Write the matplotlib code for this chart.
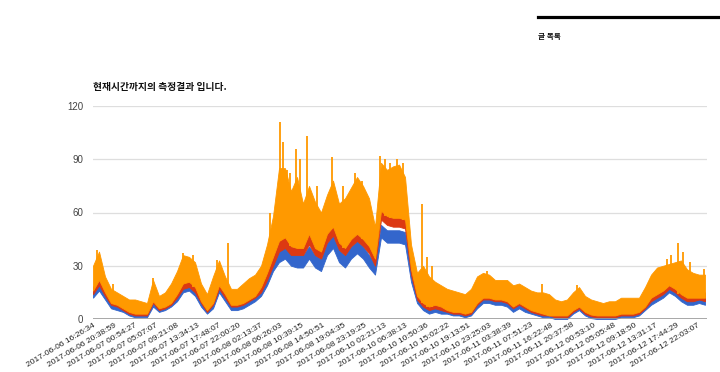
import numpy as np
import matplotlib.pyplot as plt
from matplotlib.lines import Line2D

plt.rcParams['font.family'] = ['Liberation Sans', 'Noto Sans CJK KR', 'DejaVu Sans']

# per-bucket range (min / max) of each series
blue_lo = [12, 16, 11, 6, 5, 4, 2, 1, 1, 1, 7, 4, 5, 7, 10, 15, 16, 13, 7, 3,
           6, 15, 10, 5, 5, 6, 8, 10, 13, 19, 27, 32, 34, 30, 29, 29, 34, 29, 27, 36,
           40, 32, 29, 34, 37, 34, 29, 25, 46, 43, 43, 43, 42, 21, 9, 5, 3, 4, 3, 3,
           2, 2, 1, 2, 6, 9, 9, 8, 8, 7, 4, 6, 4, 3, 2, 1, 1, 0, 0, 0,
           3, 5, 2, 0.5, 0, 0, 0, 0, 1, 1, 1, 2, 5, 8, 10, 12, 15, 13, 10, 8,
           8, 9, 8]
blue_hi = [16, 21, 15, 9, 8, 6, 4, 3, 3, 3, 11, 6, 7, 9, 13, 19, 20, 17, 10, 5,
           9, 18, 13, 8, 8, 9, 11, 13, 17, 24, 32, 39, 41, 37, 36, 36, 41, 36, 34, 43,
           47, 39, 36, 41, 44, 41, 36, 31, 53, 50, 50, 50, 49, 27, 13, 9, 7, 8, 7, 5,
           4, 4, 3, 4, 10, 13, 13, 12, 12, 11, 8, 10, 8, 5, 4, 3, 3, 2, 1.5, 2,
           5, 7, 4, 2.5, 2, 2, 2, 2, 3, 3, 3, 4, 7, 12, 14, 16, 19, 17, 14, 12,
           12, 13, 12]
red_lo = [14, 19, 13, 8, 7, 5, 3, 2, 2, 2, 9, 5, 6, 8, 12, 17, 18, 15, 9, 4,
          8, 17, 12, 7, 7, 8, 10, 12, 15, 22, 30, 38, 40, 36, 36, 36, 42, 36, 34, 43,
          47, 39, 36, 41, 44, 41, 37, 30, 56, 53, 52, 52, 51, 25, 11, 7, 5, 6, 5, 4,
          3, 3, 2, 3, 8, 11, 11, 10, 10, 9, 6, 8, 6, 4, 3, 2, 2, 1, 1, 1,
          4, 6, 3, 1.5, 1, 1, 1, 1, 2, 2, 2, 3, 6, 10, 12, 14, 17, 15, 12, 10,
          10, 11, 10]
red_hi = [18, 25, 18, 11, 10, 8, 6, 4, 5, 5, 13, 8, 9, 11, 16, 23, 24, 20, 12, 7,
          11, 21, 16, 10, 10, 11, 13, 15, 20, 29, 38, 48, 51, 45, 45, 45, 53, 45, 43, 53,
          57, 48, 45, 50, 53, 50, 46, 39, 66, 63, 62, 62, 61, 33, 16, 12, 10, 11, 10, 8,
          6, 6, 5, 6, 12, 15, 15, 14, 14, 13, 10, 12, 10, 7, 6, 5, 4, 3, 3, 3,
          7, 9, 6, 4, 3, 3, 3, 3, 4, 4, 4, 5, 9, 14, 16, 18, 21, 19, 16, 14,
          14, 15, 15]
orange_lo = [16, 22, 15, 9, 8, 6, 4, 3, 3, 3, 10, 6, 7, 9, 14, 20, 21, 18, 10, 5,
             9, 19, 14, 8, 8, 9, 11, 13, 18, 26, 35, 44, 46, 41, 40, 40, 48, 40, 38, 48,
             52, 43, 40, 45, 48, 45, 41, 34, 61, 58, 57, 57, 56, 28, 13, 9, 7, 8, 7, 5,
             4, 4, 3, 4, 9, 12, 12, 11, 11, 10, 7, 9, 7, 5, 4, 3, 2, 2, 2, 2,
             5, 7, 4, 2.5, 2, 2, 2, 2, 3, 3, 3, 4, 7, 12, 14, 16, 19, 17, 14, 12,
             12, 12, 12]
orange_hi = [30, 38, 24, 17, 15, 13, 11, 11, 10, 9, 22, 13, 15, 20, 27, 36, 35, 32, 20, 14,
             24, 33, 24, 17, 17, 20, 23, 25, 30, 42, 58, 85, 85, 72, 80, 65, 75, 66, 60, 70,
             78, 65, 68, 74, 80, 75, 68, 52, 88, 84, 86, 87, 80, 42, 26, 30, 24, 21, 19, 17,
             16, 15, 14, 17, 24, 26, 25, 22, 22, 22, 19, 20, 18, 16, 15, 15, 14, 11, 10, 11,
             15, 18, 13, 11, 10, 9, 10, 10, 12, 12, 12, 12, 18, 25, 29, 30, 31, 32, 33, 28,
             26, 25, 25]

# short peaks of the orange series (bucket position, peak value)
spike_pos = [0.7, 3.3, 10, 15, 16.7, 20.7, 22.5, 29.5, 31.2, 31.7, 32.3, 32.8, 33.8, 34.5,
             35.7, 37.3, 39.8, 41.7, 43.7, 44.8, 47.8, 48.7, 49.5, 50.7, 51.7, 54.8, 55.7,
             56.5, 65.7, 74.8, 80.7, 95.7, 96.3, 97.5, 98.3, 99.5, 101.9]
spike_val = [39, 20, 23, 37, 36, 33, 43, 60, 111, 100, 84, 82, 96, 90,
             103, 75, 91, 75, 82, 78, 92, 90, 88, 90, 88, 65, 35,
             30, 27, 20, 19, 34, 36, 43, 38, 32, 28]

tick_labels = [
    '2017-06-06 16:26:34', '2017-06-06 20:38:59', '2017-06-07 00:54:27',
    '2017-06-07 05:07:07', '2017-06-07 09:21:08', '2017-06-07 13:34:13',
    '2017-06-07 17:48:07', '2017-06-07 22:00:20', '2017-06-08 02:13:37',
    '2017-06-08 06:26:03', '2017-06-08 10:39:15', '2017-06-08 14:50:51',
    '2017-06-08 19:04:35', '2017-06-08 23:19:25', '2017-06-10 02:21:13',
    '2017-06-10 06:38:13', '2017-06-10 10:50:36', '2017-06-10 15:02:22',
    '2017-06-10 19:13:51', '2017-06-10 23:25:03', '2017-06-11 03:38:39',
    '2017-06-11 07:51:23', '2017-06-11 16:22:48', '2017-06-11 20:37:58',
    '2017-06-12 00:53:10', '2017-06-12 05:05:48', '2017-06-12 09:18:50',
    '2017-06-12 13:31:17', '2017-06-12 17:44:29', '2017-06-12 22:03:07',
]

BLUE, RED, ORANGE = '#3366cc', '#dc3912', '#ff9900'

x = np.arange(len(blue_lo))
fig = plt.figure(figsize=(7.2, 3.72), dpi=100)
ax = fig.add_axes([93 / 720, 1 - 319 / 372, 614 / 720, 213 / 372])

ax.fill_between(x, blue_lo, blue_hi, color=BLUE, lw=0.6, zorder=2)
ax.fill_between(x, red_lo, red_hi, color=RED, lw=0.6, zorder=3)
ax.fill_between(x, orange_lo, orange_hi, color=ORANGE, lw=0.6, zorder=4)
base = [orange_lo[int(round(p))] for p in spike_pos]
ax.vlines(spike_pos, base, spike_val, color=ORANGE, lw=1.3, zorder=4)

ax.set_xlim(0, 102.33)
ax.set_ylim(0, 120)
ax.set_yticks([0, 30, 60, 90, 120])
ax.yaxis.grid(True, color='#dedede', lw=0.9)
ax.set_axisbelow(True)
ax.axhline(0, color='#999999', lw=1.2, zorder=5)
for s in ax.spines.values():
    s.set_visible(False)

step = 20.83 / 6
ax.set_xticks(np.arange(len(tick_labels)) * step)
ax.set_xticklabels(tick_labels, rotation=31, ha='right', va='top',
                   rotation_mode='anchor', fontsize=6.1, color='#222222')
ax.tick_params(axis='x', length=0, pad=2)
ax.tick_params(axis='y', length=0, pad=7, labelsize=7, labelcolor='#444444')

fig.text(93 / 720, 1 - 87 / 372, '현재시간까지의 측정결과 입니다.',
         family=['Noto Sans CJK KR', 'DejaVu Sans'], fontweight='bold',
         fontsize=7, va='center', ha='left', color='#111111')

fig.add_artist(Line2D([538 / 720, 1.0], [1 - 17 / 372, 1 - 17 / 372],
                      color='black', lw=2.3))
fig.text(538 / 720, 1 - 37 / 372, '글 목록', family=['Noto Sans CJK KR', 'DejaVu Sans'],
         fontweight='bold', fontsize=5.5, va='center', ha='left', color='#111111')

fig.savefig('out.png', dpi=100)
